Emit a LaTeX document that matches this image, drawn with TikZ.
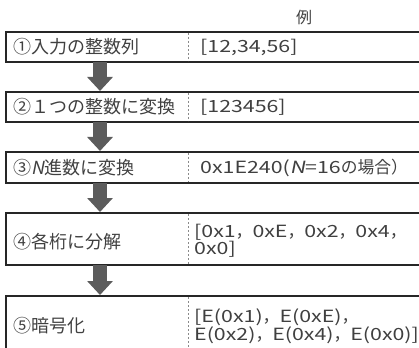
\documentclass[tikz,border=0pt]{standalone}
\usepackage{fontspec}
\setmainfont{Noto Sans CJK JP}
\newfontfamily\itfont{Noto Sans CJK JP}[FakeSlant=0.2]
\newfontfamily\widefont{Noto Sans CJK JP}[FakeStretch=1.27]
\newfontfamily\itwidefont{Noto Sans CJK JP}[FakeStretch=1.27,FakeSlant=0.2]
\newcommand\wid[1]{{\widefont #1}}
\usetikzlibrary{arrows.meta,calc}
\definecolor{txt}{HTML}{404040}
\definecolor{bord}{HTML}{262626}
\definecolor{arr}{HTML}{5C5C5C}
\definecolor{dsh}{HTML}{8A8A8A}
\tikzset{
  rowbox/.style={minimum width=413pt, inner sep=0pt, outer sep=0pt},
  border/.style={draw=bord, line width=1.3pt},
  divider/.style={draw=dsh, line width=0.7pt, dash pattern=on 2pt off 2pt},
  lt/.style={anchor=west, inner sep=0pt, text=txt, font=\fontsize{18}{20}\selectfont},
  rt/.style={anchor=west, inner sep=0pt, text=txt, font=\fontsize{16.8}{17}\selectfont, align=left},
  bigarrow/.style={draw=arr, line width=14pt, -{Triangle[width=25pt,length=14pt]}},
}
\begin{document}
\begin{tikzpicture}[x=1pt,y=-1pt]
\useasboundingbox (0,0) rectangle (419,347);
\clip (0,0) rectangle (419,347);
\node[text=txt, font=\fontsize{16}{16}\selectfont] (hdr) at (304,17) {例};
% rows
\node[rowbox, minimum height=30pt] (r1) at (212.5,47) {};
\node[rowbox, minimum height=30pt] (r2) at (212.5,107) {};
\node[rowbox, minimum height=31pt] (r3) at (212.5,167.5) {};
\node[rowbox, minimum height=52pt] (r4) at (212.5,239) {};
\node[rowbox, minimum height=80pt] (r5) at (212.5,336) {};
\foreach \r in {r1,r2,r3,r4,r5}{
  \draw[border] (\r.north east) -- (\r.north west) -- (\r.south west) -- (\r.south east);
  \draw[divider] ($(\r.north west)+(182,1)$) -- ($(\r.south west)+(182,-1)$);
}
% arrows
\draw[bigarrow] ($(r1.south west)+(94,0)$) -- ($(r2.north west)+(94,-1)$);
\draw[bigarrow] ($(r2.south west)+(94,0)$) -- ($(r3.north west)+(94,-1)$);
\draw[bigarrow] ($(r3.south west)+(94,0)$) -- ($(r4.north west)+(94,-1)$);
\draw[bigarrow] ($(r4.south west)+(94,0)$) -- ($(r5.north west)+(94,-1)$);
% left texts
\node[lt] (l1) at ($(r1.west)+(7,0)$) {①入力の整数列};
\node[lt] (l2) at ($(r2.west)+(7,0)$) {②１つの整数に変換};
\node[lt] (l3) at ($(r3.west)+(7,0)$) {③{\itfont N}進数に変換};
\node[lt] (l4) at ($(r4.west)+(7,3)$) {④各桁に分解};
\node[lt] (l5) at (13,326) {⑤暗号化};
% right texts
\node[rt] (e1) at ($(r1.west)+(194,0)$) {\wid{[12,34,56]}};
\node[rt] (e2) at ($(r2.west)+(194,0)$) {\wid{[123456]}};
\node[rt] (e3) at ($(r3.west)+(194,0)$) {\wid{0x1E240(}{\itwidefont N}\wid{=16}の場合）};
\node[rt, anchor=north west] (e4) at (194,224) {\wid{[0x1}，\wid{0xE}，\wid{0x2}，\wid{0x4}，\\\wid{0x0]}};
\node[rt, anchor=north west] (e5) at (194,309) {\wid{[E(0x1)}，\wid{E(0xE)}，\\\wid{E(0x2)}，\wid{E(0x4)}，\wid{E(0x0)]}};
\end{tikzpicture}
\end{document}
